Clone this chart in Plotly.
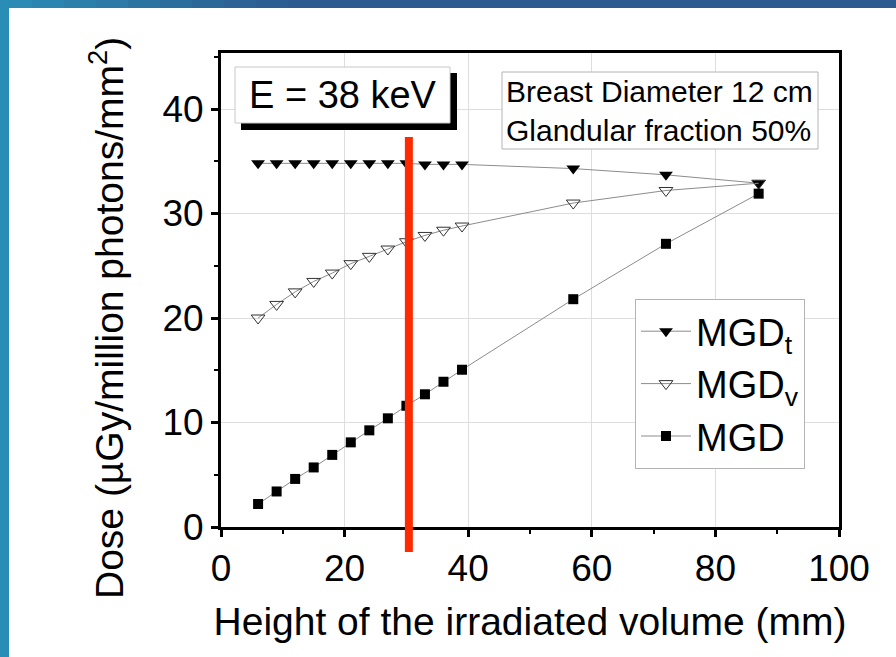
import plotly.graph_objects as go

# ---- data ----
height_mm = [6, 9, 12, 15, 18, 21, 24, 27, 30, 33, 36, 39, 57, 72, 87]
mgd_t = [34.8, 34.8, 34.8, 34.8, 34.8, 34.8, 34.8, 34.8, 34.8, 34.7, 34.7, 34.7, 34.3, 33.7, 32.9]
mgd_v = [20.0, 21.3, 22.5, 23.5, 24.3, 25.2, 25.9, 26.6, 27.3, 27.9, 28.4, 28.8, 31.0, 32.2, 32.9]
mgd = [2.2, 3.4, 4.6, 5.7, 6.9, 8.1, 9.25, 10.4, 11.6, 12.7, 13.9, 15.05, 21.8, 27.1, 31.9]
series_names = ["MGD<sub>t</sub>", "MGD<sub>v</sub>", "MGD"]
red_line_x = 30.4
x_ticks = [0, 20, 40, 60, 80, 100]
y_ticks = [0, 10, 20, 30, 40]

FONT = "Liberation Sans, Arial, sans-serif"
W, H = 896, 657
L, R, T, B = 221, 57, 53, 130
PW, PH = W - L - R, H - T - B


def px(xp):
    return (xp - L) / PW


def py(yp):
    return (H - B - yp) / PH


fig = go.Figure()
line_style = dict(color="#8c8c8c", width=1)
fig.add_trace(go.Scatter(x=height_mm, y=mgd_t, name=series_names[0], mode="lines+markers",
                         line=line_style,
                         marker=dict(symbol="triangle-down", size=12, color="black")))
fig.add_trace(go.Scatter(x=height_mm, y=mgd_v, name=series_names[1], mode="lines+markers",
                         line=line_style,
                         marker=dict(symbol="triangle-down-open", size=12, color="#333333",
                                     line=dict(width=1))))
fig.add_trace(go.Scatter(x=height_mm, y=mgd, name=series_names[2], mode="lines+markers",
                         line=line_style,
                         marker=dict(symbol="square", size=10, color="black")))

shapes = []
# slide frame (blue bands)
top_cols = ["#2a8bb4", "#2a86b0", "#2a80ab", "#2b7aa7", "#2b74a2", "#2b6e9e",
            "#2b689a", "#2c6296", "#2c5e93", "#2c5b91"]
seg = 32
for i, c in enumerate(top_cols):
    x0 = i * seg
    x1 = (i + 1) * seg if i < len(top_cols) - 1 else W
    shapes.append(dict(type="rect", xref="paper", yref="paper", x0=px(x0), x1=px(x1),
                       y0=py(8), y1=py(0), fillcolor=c, line=dict(width=0), layer="above"))
shapes.append(dict(type="rect", xref="paper", yref="paper", x0=px(0), x1=px(9),
                   y0=py(H), y1=py(0), fillcolor="#2a8db5", line=dict(width=0), layer="above"))

# E = 38 keV box with shadow
shapes.append(dict(type="rect", xref="paper", yref="paper", x0=px(241), x1=px(457),
                   y0=py(130), y1=py(73), fillcolor="black", line=dict(width=0), layer="above"))
shapes.append(dict(type="rect", xref="paper", yref="paper", x0=px(235), x1=px(450),
                   y0=py(123), y1=py(67), fillcolor="white",
                   line=dict(width=1, color="#c8c8c8"), layer="above"))
# info box
shapes.append(dict(type="rect", xref="paper", yref="paper", x0=px(502), x1=px(818),
                   y0=py(149), y1=py(72), fillcolor="white",
                   line=dict(width=1, color="#b4b4b4"), layer="above"))
# red vertical line
shapes.append(dict(type="line", xref="x", yref="paper", x0=red_line_x, x1=red_line_x,
                   y0=py(552), y1=py(137), line=dict(color="#ff2a00", width=8), layer="above"))

annotations = [
    dict(text="E = 38 keV", xref="paper", yref="paper", x=px(343), y=py(95),
         showarrow=False, font=dict(family=FONT, size=38, color="black"),
         xanchor="center", yanchor="middle"),
    dict(text="Breast Diameter 12 cm<br>Glandular fraction 50%", xref="paper", yref="paper",
         x=px(504), y=py(111), showarrow=False, align="left",
         font=dict(family=FONT, size=30, color="black"),
         xanchor="left", yanchor="middle"),
    dict(text="Dose (µGy/million photons/mm<sup>2</sup>)", xref="paper", yref="paper",
         x=px(106), y=py(318), showarrow=False, textangle=-90,
         font=dict(family=FONT, size=39, color="black"),
         xanchor="center", yanchor="middle"),
]

axis_common = dict(showline=True, linecolor="black", linewidth=3, mirror=True,
                   ticks="outside", ticklen=7, tickwidth=3, tickcolor="black",
                   showgrid=True, gridcolor="#dedede", gridwidth=1, zeroline=False,
                   tickfont=dict(family=FONT, size=37, color="black"))

fig.update_layout(
    width=W, height=H,
    margin=dict(l=L, r=R, t=T, b=B),
    paper_bgcolor="white", plot_bgcolor="white",
    font=dict(family=FONT, color="black"),
    showlegend=True,
    legend=dict(x=px(635), y=py(299), xanchor="left", yanchor="top",
                bgcolor="white", bordercolor="#b4b4b4", borderwidth=1,
                font=dict(family=FONT, size=38, color="black"),
                itemwidth=50, tracegroupgap=0),
    xaxis=dict(range=[0, 100], tickvals=x_ticks,
               minor=dict(ticks="outside", dtick=10, ticklen=4, tickwidth=2, tickcolor="black",
                          showgrid=False),
               title=dict(text="Height of the irradiated volume (mm)",
                          font=dict(family=FONT, size=39, color="black"), standoff=20),
               **axis_common),
    yaxis=dict(range=[0, (H - B - T) / 10.45], tickvals=y_ticks,
               minor=dict(ticks="outside", dtick=5, ticklen=4, tickwidth=2, tickcolor="black",
                          showgrid=False),
               **axis_common),
    shapes=shapes,
    annotations=annotations,
)

fig.write_html("out.html")
